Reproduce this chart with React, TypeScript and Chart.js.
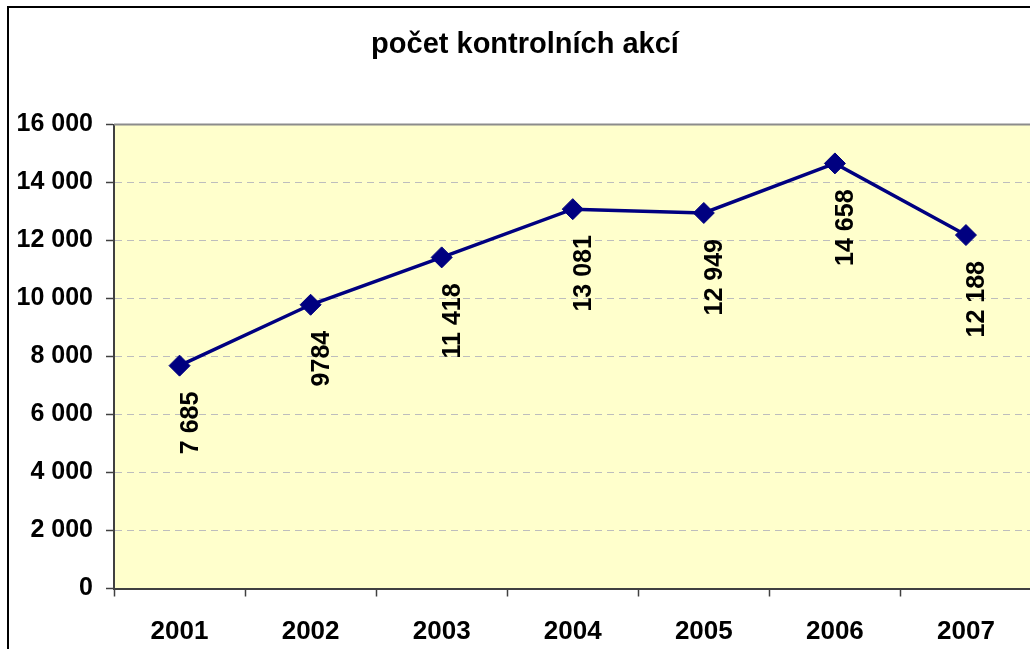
import React, { useEffect, useRef } from "react";
import { Chart, registerables } from "chart.js";

Chart.register(...registerables);

const YEARS = ["2001", "2002", "2003", "2004", "2005", "2006", "2007"];
const VALUES = [7685, 9784, 11418, 13081, 12949, 14658, 12188];
const VALUE_LABELS = ["7 685", "9784", "11 418", "13 081", "12 949", "14 658", "12 188"];
const TITLE = "počet kontrolních akcí";
const Y_MIN = 0;
const Y_MAX = 16000;
const Y_STEP = 2000;

const FONT = "'Liberation Sans', Arial, sans-serif";

const fmt = (v: number) => {
  const s = String(Math.round(v));
  return s.replace(/\B(?=(\d{3})+(?!\d))/g, " ");
};

const plotBg = {
  id: "plotBg",
  beforeDraw(chart: any) {
    const { ctx, chartArea: a } = chart;
    ctx.save();
    ctx.fillStyle = "#ffffff";
    ctx.fillRect(0, 0, chart.width, chart.height);
    ctx.fillStyle = "#FFFFCC";
    ctx.fillRect(a.left, a.top, a.right - a.left, a.bottom - a.top);
    ctx.restore();
  },
  afterDraw(chart: any) {
    const { ctx, chartArea: a } = chart;
    ctx.save();
    ctx.strokeStyle = "#8c8c8c";
    ctx.lineWidth = 2;
    ctx.beginPath();
    ctx.moveTo(a.left, a.top);
    ctx.lineTo(a.right, a.top);
    ctx.lineTo(a.right, a.bottom);
    ctx.stroke();
    ctx.strokeStyle = "#000000";
    ctx.lineWidth = 2;
    ctx.strokeRect(1, 1, chart.width - 2, chart.height - 2);
    ctx.restore();
  },
};

const valueLabels = {
  id: "valueLabels",
  afterDatasetsDraw(chart: any) {
    const { ctx } = chart;
    const meta = chart.getDatasetMeta(0);
    ctx.save();
    ctx.fillStyle = "#000000";
    ctx.font = `bold 25px ${FONT}`;
    ctx.textAlign = "right";
    ctx.textBaseline = "alphabetic";
    meta.data.forEach((pt: any, i: number) => {
      ctx.save();
      ctx.translate(pt.x + 18, pt.y + 26);
      ctx.rotate(-Math.PI / 2);
      ctx.fillText(VALUE_LABELS[i], 0, 0);
      ctx.restore();
    });
    ctx.restore();
  },
};

export default function App() {
  const ref = useRef<HTMLCanvasElement | null>(null);

  useEffect(() => {
    if (!ref.current) return;
    const chart = new Chart(ref.current, {
      type: "line",
      data: {
        labels: YEARS,
        datasets: [
          {
            data: VALUES,
            borderColor: "#000080",
            backgroundColor: "#000080",
            borderWidth: 3.5,
            tension: 0,
            pointStyle: "rectRot",
            pointRadius: 10.5,
            pointBorderWidth: 1,
            pointBorderColor: "#000080",
            pointBackgroundColor: "#000080",
            clip: false as any,
          },
        ],
      },
      plugins: [plotBg, valueLabels],
      options: {
        animation: false,
        responsive: true,
        maintainAspectRatio: false,
        layout: { padding: { left: 5, right: 5, top: 0, bottom: 0 } },
        plugins: {
          legend: { display: false },
          tooltip: { enabled: false },
          title: {
            display: true,
            text: TITLE,
            color: "#000000",
            font: { family: FONT, size: 29, weight: "bold" },
            padding: { top: 22, bottom: 61.7 },
          },
        },
        scales: {
          x: {
            type: "category",
            offset: true,
            grid: {
              display: true,
              drawOnChartArea: false,
              drawTicks: true,
              tickLength: 8,
              tickColor: "#404040",
              tickWidth: 1.5,
              offset: true,
            },
            border: { display: true, color: "#404040", width: 2 },
            ticks: {
              color: "#000000",
              font: { family: FONT, size: 26, weight: "bold" },
              padding: 20,
              maxRotation: 0,
              autoSkip: false,
            },
            afterFit(scale: any) {
              scale.height = 77.5;
            },
          },
          y: {
            min: Y_MIN,
            max: Y_MAX,
            grid: {
              color: "#bdbdbd",
              lineWidth: 1,
              drawTicks: true,
              tickLength: 8,
              tickColor: "#404040",
              tickWidth: 1.5,
              tickBorderDash: [],
            } as any,
            border: { display: true, color: "#404040", width: 2, dash: [7, 5] },
            ticks: {
              stepSize: Y_STEP,
              color: "#000000",
              font: { family: FONT, size: 25, weight: "bold" },
              padding: 13,
              callback: (v: any) => fmt(Number(v)),
            },
            afterFit(scale: any) {
              scale.width = 102;
            },
          },
        },
      },
    });
    return () => chart.destroy();
  }, []);

  return (
    <div
      style={{
        position: "fixed",
        left: 0,
        top: 0,
        width: 1030,
        height: 649,
        overflow: "hidden",
        background: "#ffffff",
      }}
    >
      <div
        style={{
          position: "absolute",
          left: 7,
          top: 6,
          width: 1036,
          height: 660,
        }}
      >
        <canvas ref={ref} />
      </div>
    </div>
  );
}
